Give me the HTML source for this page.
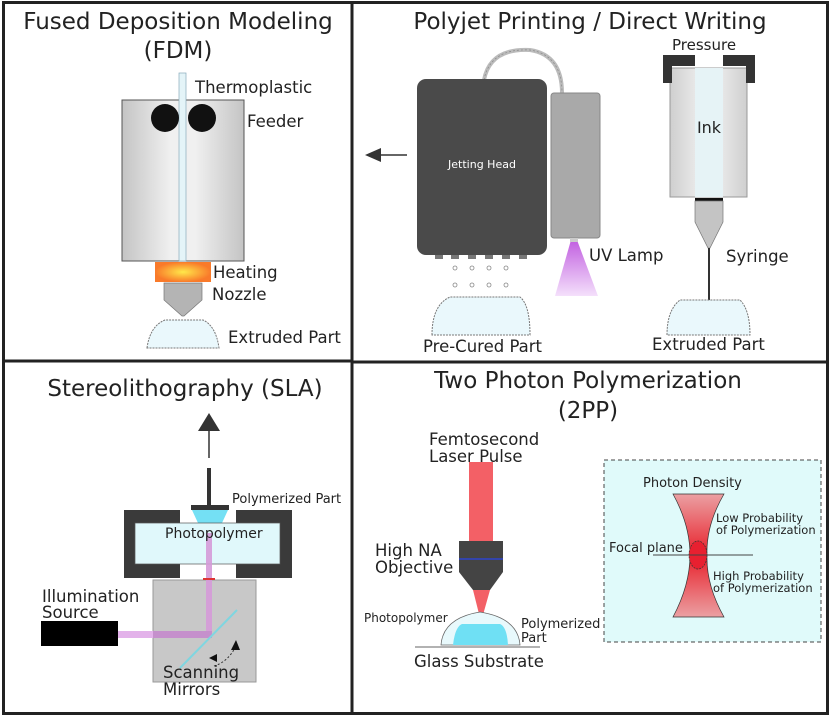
<!DOCTYPE html>
<html><head><meta charset="utf-8"><style>
html,body{margin:0;padding:0;background:#fff}
svg{display:block}
text{font-family:"DejaVu Sans","Liberation Sans",sans-serif;fill:#222}
</style></head><body>
<svg width="831" height="717" viewBox="0 0 831 717" xmlns="http://www.w3.org/2000/svg">
<defs>
<linearGradient id="body" x1="0" x2="1"><stop offset="0" stop-color="#c4c4c4"/><stop offset="0.4" stop-color="#f0f0f0"/><stop offset="0.6" stop-color="#f0f0f0"/><stop offset="1" stop-color="#c4c4c4"/></linearGradient>
<radialGradient id="heat"><stop offset="0" stop-color="#ffe84a"/><stop offset="1" stop-color="#f97a2a"/></radialGradient>
<linearGradient id="uv" x1="0" y1="0" x2="0" y2="1"><stop offset="0" stop-color="#c15fe0"/><stop offset="1" stop-color="#f4e0fb"/></linearGradient>
<linearGradient id="syr" x1="0" x2="1"><stop offset="0" stop-color="#cfcfcf"/><stop offset="0.5" stop-color="#f4f4f4"/><stop offset="1" stop-color="#cfcfcf"/></linearGradient>
<linearGradient id="hg" x1="0" y1="0" x2="0" y2="1"><stop offset="0" stop-color="#eba0a3"/><stop offset="0.5" stop-color="#e8202a"/><stop offset="1" stop-color="#eba0a3"/></linearGradient>
</defs>
<rect x="3.5" y="2.5" width="824" height="711" fill="none" stroke="#222" stroke-width="3"/>
<line x1="352" y1="2" x2="352" y2="714" stroke="#222" stroke-width="3"/>
<line x1="3" y1="361" x2="352" y2="361" stroke="#222" stroke-width="3"/>
<line x1="352" y1="362" x2="828" y2="362" stroke="#222" stroke-width="3"/>

<!-- FDM -->
<text x="178" y="29" font-size="23" text-anchor="middle">Fused Deposition Modeling</text>
<text x="178" y="58" font-size="23" text-anchor="middle">(FDM)</text>
<rect x="122" y="100" width="122" height="161" fill="url(#body)" stroke="#555"/>
<rect x="179" y="73" width="7" height="188" fill="#e4f4f8" stroke="#8ab" stroke-width="0.7"/>
<circle cx="165" cy="118" r="14" fill="#111"/>
<circle cx="202" cy="118" r="14" fill="#111"/>
<text x="195" y="93" font-size="16.5">Thermoplastic</text>
<text x="247" y="127" font-size="16.5">Feeder</text>
<rect x="155" y="262" width="56" height="20" fill="url(#heat)"/>
<path d="M164 283 H202 V300 L184 316 L182 316 L164 300 Z" fill="#b4b4b4" stroke="#777" stroke-width="0.7"/>
<path d="M147 348 Q150 326 165 320 H203 Q216 326 219 348 Z" fill="#eaf8fc" stroke="#777" stroke-dasharray="2 1"/>
<text x="213" y="278" font-size="16.5">Heating</text>
<text x="212" y="300" font-size="16.5">Nozzle</text>
<text x="228" y="343" font-size="16.5">Extruded Part</text>

<!-- Polyjet -->
<text x="590" y="29" font-size="23" text-anchor="middle">Polyjet Printing / Direct Writing</text>
<line x1="380" y1="155" x2="407" y2="155" stroke="#333" stroke-width="1.5"/>
<polygon points="365,155 381,148 381,162" fill="#333"/>
<path d="M484 80 Q490 48 530 50 Q562 55 562 93" fill="none" stroke="#bbb" stroke-width="4"/>
<path d="M484 80 Q490 48 530 50 Q562 55 562 93" fill="none" stroke="#888" stroke-width="0.7" stroke-dasharray="2 2"/>
<rect x="417" y="79" width="130" height="176" rx="9" fill="#4a4a4a"/>
<text x="482" y="168" font-size="11" fill="#fff" style="fill:#fff" text-anchor="middle">Jetting Head</text>
<rect x="551" y="93" width="49" height="145" rx="3" fill="#a9a9a9" stroke="#888"/>
<polygon points="571,240 577,240 598,296 555,296" fill="url(#uv)"/>
<rect x="570" y="238" width="8" height="4" fill="#ccc"/>
<g fill="#777"><rect x="435" y="255" width="8" height="4"/><rect x="451" y="255" width="8" height="4"/><rect x="468" y="255" width="8" height="4"/><rect x="485" y="255" width="8" height="4"/><rect x="502" y="255" width="8" height="4"/><rect x="519" y="255" width="8" height="4"/></g>
<g fill="none" stroke="#888" stroke-width="0.8">
<circle cx="455" cy="268" r="2"/><circle cx="472" cy="268" r="2"/><circle cx="489" cy="268" r="2"/><circle cx="506" cy="268" r="2"/>
<circle cx="455" cy="285" r="2"/><circle cx="472" cy="285" r="2"/><circle cx="489" cy="285" r="2"/><circle cx="506" cy="285" r="2"/>
</g>
<path d="M432 335 Q432 305 450 297 H520 Q530 305 530 335 Z" fill="#eaf8fc" stroke="#777" stroke-dasharray="2 1"/>
<text x="589" y="261" font-size="16.5">UV Lamp</text>
<text x="423" y="352" font-size="16.5">Pre-Cured Part</text>
<text x="672" y="50" font-size="15">Pressure</text>
<rect x="670" y="68" width="77" height="129" fill="url(#syr)" stroke="#999"/>
<rect x="695" y="68" width="28" height="129" fill="#e6f3f6"/>
<path d="M663 55 H695 V66 H672 V83 H663 Z" fill="#333"/>
<path d="M755 55 H723 V66 H746 V83 H755 Z" fill="#333"/>
<text x="709" y="133" font-size="16" text-anchor="middle">Ink</text>
<rect x="695" y="198" width="28" height="3" fill="#111"/>
<path d="M695 201 H723 V222 L710 248 H708 L695 222 Z" fill="#c4c4c4" stroke="#777" stroke-width="0.7"/>
<line x1="709" y1="248" x2="709" y2="302" stroke="#333" stroke-width="2"/>
<path d="M667 335 Q667 310 680 300 H740 Q750 310 750 335 Z" fill="#eaf8fc" stroke="#777" stroke-dasharray="2 1"/>
<text x="726" y="262" font-size="16.5">Syringe</text>
<text x="652" y="350" font-size="16.5">Extruded Part</text>

<!-- SLA -->
<text x="185" y="396" font-size="23" text-anchor="middle">Stereolithography (SLA)</text>
<polygon points="209,413 198,431 220,431" fill="#333"/>
<line x1="209" y1="430" x2="209" y2="458" stroke="#333" stroke-width="1.5"/>
<rect x="207" y="468" width="4" height="38" fill="#333"/>
<rect x="191" y="505" width="38" height="5" fill="#333"/>
<path d="M192 510 H228 L222 523 H198 Z" fill="#74e0f4"/>
<path d="M124 510 H180 V523 H135 V564 H180 V578 H124 Z" fill="#3a3a3a"/>
<path d="M292 510 H236 V523 H280 V564 H236 V578 H292 Z" fill="#3a3a3a"/>
<rect x="135" y="523" width="145" height="41" fill="#e0f8fb" stroke="#555" stroke-width="0.7"/>
<rect x="153" y="580" width="103" height="102" fill="#c8c8c8" stroke="#999"/>
<rect x="206" y="533" width="6" height="105" fill="#d59ad8" opacity="0.9"/>
<rect x="118" y="631" width="91" height="7" fill="#e3b2ea"/>
<rect x="153" y="631" width="59" height="7" fill="#c590cc"/>
<line x1="180" y1="668" x2="237" y2="610" stroke="#7fd6e0" stroke-width="2"/>
<rect x="203" y="578" width="12" height="2" fill="#d33"/>
<rect x="41" y="621" width="77" height="25" fill="#000"/>
<path d="M214 666 Q228 662 236 646" fill="none" stroke="#333" stroke-dasharray="2 2"/>
<polygon points="236,640 231,650 240,650" fill="#111"/>
<polygon points="209,658 217,654 217,662" fill="#111"/>
<text x="232" y="503" font-size="13">Polymerized Part</text>
<text x="165" y="538" font-size="14">Photopolymer</text>
<text x="42" y="602" font-size="16.5">Illumination</text>
<text x="42" y="618" font-size="16.5">Source</text>
<text x="163" y="678" font-size="16.5">Scanning</text>
<text x="163" y="695" font-size="16.5">Mirrors</text>

<!-- 2PP -->
<text x="588" y="388" font-size="23" text-anchor="middle">Two Photon Polymerization</text>
<text x="588" y="418" font-size="23" text-anchor="middle">(2PP)</text>
<text x="429" y="445" font-size="16.5">Femtosecond</text>
<text x="429" y="462" font-size="16.5">Laser Pulse</text>
<rect x="469" y="462" width="24" height="79" fill="#f36066"/>
<path d="M459 541 H503 V572 L490 590 H473 L459 572 Z" fill="#444"/>
<line x1="459" y1="559" x2="503" y2="559" stroke="#3344aa" stroke-width="2"/>
<polygon points="473,590 490,590 481,622" fill="#f36066"/>
<path d="M441 645 Q443 618 480 612 Q518 618 520 645 Z" fill="#e8f9fc" stroke="#666" stroke-width="0.8"/>
<path d="M453 645 Q455 627 462 624 H500 Q507 627 508 645 Z" fill="#6fe0f4"/>
<line x1="415" y1="647" x2="540" y2="647" stroke="#666"/>
<text x="375" y="556" font-size="16.5">High NA</text>
<text x="375" y="573" font-size="16.5">Objective</text>
<text x="364" y="622" font-size="12">Photopolymer</text>
<text x="521" y="628" font-size="13">Polymerized</text>
<text x="521" y="642" font-size="13">Part</text>
<text x="414" y="667" font-size="16.5">Glass Substrate</text>
<rect x="604" y="460" width="217" height="182" fill="#e0fafa" stroke="#444" stroke-dasharray="4 3"/>
<text x="643" y="487" font-size="13">Photon Density</text>
<path d="M673 494 H724 Q706 525 707 555 Q706 585 724 617 H673 Q690 585 690 555 Q690 525 673 494 Z" fill="url(#hg)" stroke="#333" stroke-width="0.7"/>
<ellipse cx="698" cy="555" rx="9" ry="14" fill="#e82030" stroke="#333" stroke-width="0.7" stroke-dasharray="2 1"/>
<line x1="653" y1="555" x2="753" y2="555" stroke="#444"/>
<text x="609" y="552" font-size="13">Focal plane</text>
<text x="716" y="522" font-size="11.5">Low Probability</text>
<text x="716" y="534" font-size="11.5">of Polymerization</text>
<text x="713" y="580" font-size="11.5">High Probability</text>
<text x="713" y="592" font-size="11.5">of Polymerization</text>
</svg>
</body></html>
